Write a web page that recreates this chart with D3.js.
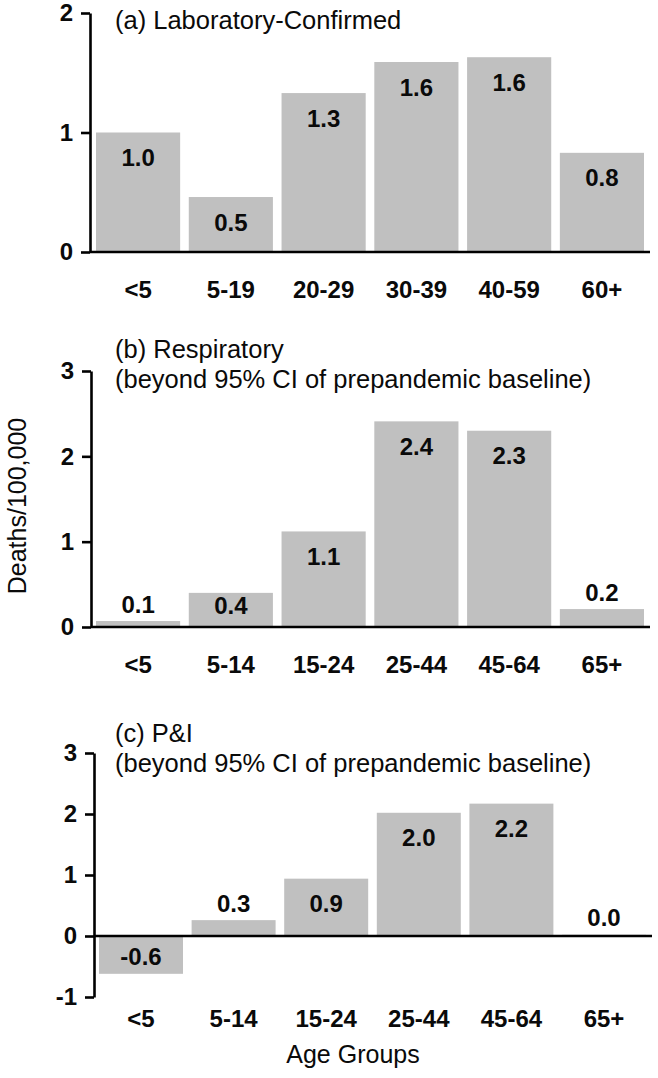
<!DOCTYPE html>
<html>
<head>
<meta charset="utf-8">
<script src="https://cdn.jsdelivr.net/npm/d3@7"></script>
<style>
  html, body { margin: 0; padding: 0; background: #fff; }
  svg { display: block; font-family: "Liberation Sans", Arial, sans-serif; }
</style>
</head>
<body>
<svg id="chart" width="658" height="1078"></svg>
<script>
// ---- data ----
const categoriesA = ["<5", "5-19", "20-29", "30-39", "40-59", "60+"];
const valuesA = [1.0, 0.46, 1.33, 1.59, 1.63, 0.83];

const categoriesB = ["<5", "5-14", "15-24", "25-44", "45-64", "65+"];
const valuesB = [0.07, 0.40, 1.12, 2.41, 2.30, 0.21];

const categoriesC = ["<5", "5-14", "15-24", "25-44", "45-64", "65+"];
const valuesC = [-0.62, 0.26, 0.94, 2.02, 2.17, 0.02];

const ticksA = [0, 1, 2];
const ticksB = [0, 1, 2, 3];
const ticksC = [-1, 0, 1, 2, 3];

const titleA = ["(a) Laboratory-Confirmed"];
const titleB = ["(b) Respiratory", "(beyond 95% CI of prepandemic baseline)"];
const titleC = ["(c) P&I", "(beyond 95% CI of prepandemic baseline)"];

const yAxisTitle = "Deaths/100,000";
const xAxisTitle = "Age Groups";

// ---- layout ----
const panels = [
  { cats: categoriesA, vals: valuesA, ticks: ticksA, title: titleA,
    domain: [0, 2], yRange: [252, 13], axisX: 90, band: [96, 644], axisRight: 650,
    xLabelY: 298, titleY: [29] },
  { cats: categoriesB, vals: valuesB, ticks: ticksB, title: titleB,
    domain: [0, 3], yRange: [627, 371], axisX: 91, band: [96, 644], axisRight: 650,
    xLabelY: 673, titleY: [358, 388] },
  { cats: categoriesC, vals: valuesC, ticks: ticksC, title: titleC,
    domain: [-1, 3], yRange: [997, 753], axisX: 94, band: [99, 646], axisRight: 652,
    xLabelY: 1027, titleY: [742, 772] }
];

const svg = d3.select("#chart");
const barColor = "#c0c0c0";
const locale = d3.formatLocale({ decimal: ".", thousands: ",", grouping: [3], currency: ["", ""], minus: "-" });
const fmt = locale.format(".1f");
const fmtTick = locale.format("d");
const FONT = "Liberation Sans, Arial, sans-serif";
const INK = "#0a0a0a";

panels.forEach(p => {
  const g = svg.append("g");
  const y = d3.scaleLinear().domain(p.domain).range(p.yRange);
  const x = d3.scaleBand().domain(p.cats).range(p.band).paddingInner(0.093).paddingOuter(0);
  const y0 = y(0);

  // bars
  g.selectAll("rect.bar").data(p.vals).join("rect")
    .attr("class", "bar")
    .attr("x", (d, i) => x(p.cats[i]))
    .attr("width", x.bandwidth())
    .attr("y", d => y(Math.max(d, 0)))
    .attr("height", d => Math.abs(y(d) - y0))
    .attr("fill", barColor);

  // value labels
  const labelY = d => {
    if (d < 0) return Math.max(y(d) - 25, y0 + 20);
    const top = y(d);
    if (y0 - top < 20) return top - 17;
    return Math.min(top + 25, y0 - 22);
  };
  g.selectAll("text.val").data(p.vals).join("text")
    .attr("class", "val")
    .attr("x", (d, i) => x(p.cats[i]) + x.bandwidth() / 2)
    .attr("y", labelY)
    .attr("dy", "0.36em")
    .attr("text-anchor", "middle")
    .attr("font-weight", "bold")
    .attr("font-size", 24)
    .attr("fill", INK)
    .text(d => fmt(d));

  // y axis
  const ax = g.append("g")
    .attr("transform", `translate(${p.axisX},0)`)
    .call(d3.axisLeft(y).tickValues(p.ticks).tickFormat(fmtTick)
      .tickSize(9).tickSizeOuter(0).tickPadding(8));
  ax.select(".domain").attr("stroke", "#000").attr("stroke-width", 2.6);
  ax.selectAll(".tick line").attr("stroke", "#000").attr("stroke-width", 2.6);
  ax.selectAll(".tick text")
    .attr("font-family", FONT)
    .attr("font-size", 24).attr("font-weight", "bold").attr("fill", INK);

  // zero baseline
  g.append("line")
    .attr("x1", p.axisX).attr("x2", p.axisRight)
    .attr("y1", y0).attr("y2", y0)
    .attr("stroke", "#000").attr("stroke-width", 2.6);

  // category labels
  g.selectAll("text.cat").data(p.cats).join("text")
    .attr("class", "cat")
    .attr("x", d => x(d) + x.bandwidth() / 2)
    .attr("y", p.xLabelY)
    .attr("text-anchor", "middle")
    .attr("font-weight", "bold")
    .attr("font-size", 24)
    .attr("fill", INK)
    .text(d => d);

  // panel title
  p.title.forEach((t, i) => {
    g.append("text")
      .attr("x", 115).attr("y", p.titleY[i])
      .attr("font-size", 25.5)
      .attr("fill", INK)
      .text(t);
  });
});

// axis titles
svg.append("text")
  .attr("transform", "translate(26,506) rotate(-90)")
  .attr("text-anchor", "middle")
  .attr("font-size", 25)
  .attr("fill", INK)
  .text(yAxisTitle);

svg.append("text")
  .attr("x", 353).attr("y", 1063)
  .attr("text-anchor", "middle")
  .attr("font-size", 25)
  .attr("fill", INK)
  .text(xAxisTitle);
</script>
</body>
</html>
